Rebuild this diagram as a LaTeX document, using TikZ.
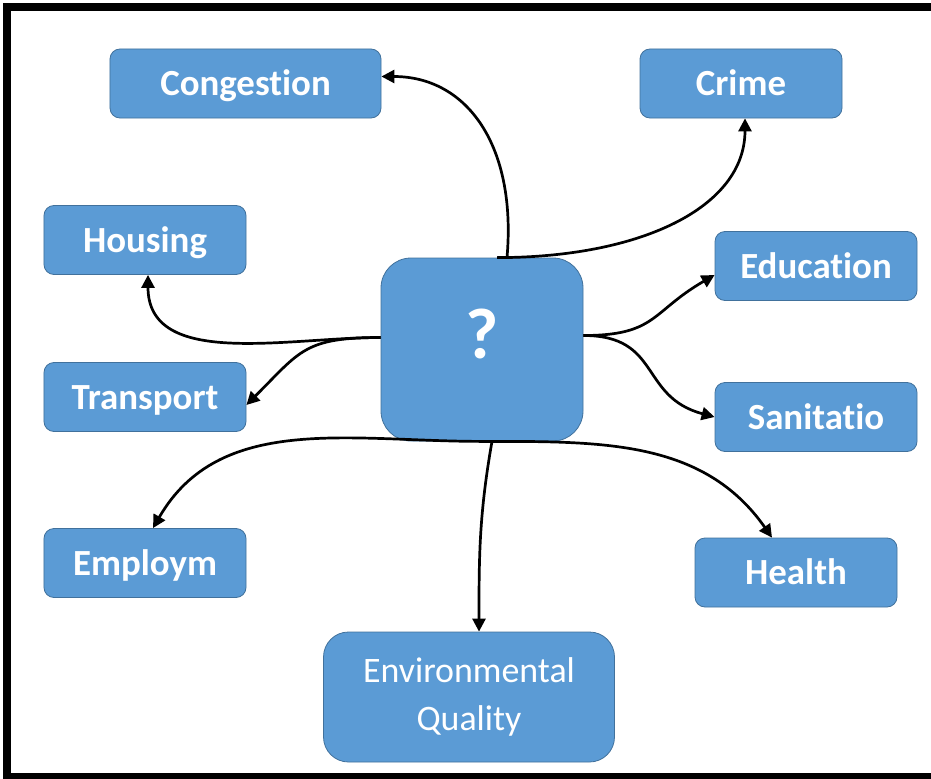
\documentclass[tikz,border=0pt]{standalone}
\usepackage{fontspec}
\setmainfont{Carlito}[Ligatures={NoCommon}]
\usetikzlibrary{arrows.meta}
\definecolor{boxblue}{HTML}{5B9BD5}
\definecolor{boxedge}{HTML}{41719C}

\begin{document}
\begin{tikzpicture}[x=1bp, y=1bp,
  topic/.style={draw=boxedge, line width=0.8bp, fill=boxblue, rounded corners=10bp, text=white, font=\fontsize{37}{44}\selectfont\bfseries, minimum width=202bp, minimum height=69bp, inner sep=0pt, text height=24bp, text depth=0pt},
  conn/.style={line width=2.7bp, -{Triangle[length=13bp,width=13bp]}}]
% Fix the page size
\useasboundingbox (0,0) rectangle (931,-779);

% Frame round the picture, its right side is cut off by the page
\begin{scope}
\clip (0,0) rectangle (931,-779);
\draw[line width=8bp] (7,-7) rectangle (990,-777);
\end{scope}

% The boxes
\node[topic, minimum width=271bp] (cong) at (245.5,-83.5) {Congestion};
\node[topic] (crime) at (741,-83.5) {Crime};
\node[topic] (housing) at (145,-240) {Housing};
\node[topic] (educ) at (816,-266) {Education};
\node[topic] (transp) at (145,-397) {Transport};
\node[topic] (sanit) at (816,-417) {Sanitatio};
\node[topic] (employ) at (145,-563) {Employm};
\node[topic] (health) at (796,-572.5) {Health};
\node[topic, minimum width=291bp, minimum height=130bp, rounded corners=25bp, font=\fontsize{36}{49}\selectfont, align=center, text height=, text depth=6bp] (env) at (469,-697) {Environmental\\Quality};
\node[topic, minimum height=183bp, rounded corners=30bp, font=\fontsize{72}{80}\selectfont\bfseries, text height=46bp, text depth=29bp] (q) at (482,-349.5) {?};

% The connectors out of the middle box
\draw[conn] ([xshift=25bp]q.north) to[out=85,in=0,out looseness=1.3,in looseness=1.0] ([yshift=7bp]cong.east);
\draw[conn] ([xshift=15bp]q.north) to[out=0,in=-90,out looseness=1.3,in looseness=0.8] ([xshift=4bp]crime.south);
\draw[conn] ([yshift=12bp]q.west) to[out=180,in=-90] ([xshift=3bp]housing.south);
\draw[conn] ([yshift=12bp]q.west) to[out=180,in=45,looseness=1.3] ([yshift=-8bp]transp.east);
\draw[conn] ([yshift=14bp]q.east) to[out=0,in=210,looseness=1.3] ([yshift=-9bp]educ.west);
\draw[conn] ([yshift=14bp]q.east) to[out=0,in=165,looseness=1.3] (sanit.west);
\draw[conn] (q.south) to[out=180,in=60] ([xshift=8bp]employ.north);
\draw[conn] (q.south) to[out=0,in=125] ([xshift=-24bp]health.north);
\draw[conn] ([xshift=10bp]q.south) to[out=-100,in=90] ([xshift=10bp]env.north);
\end{tikzpicture}
\end{document}
